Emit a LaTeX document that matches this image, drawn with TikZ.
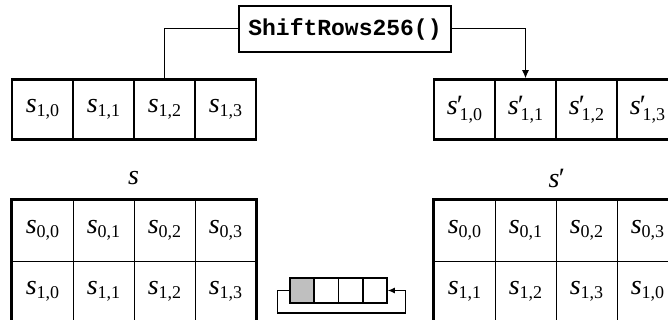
\documentclass[tikz,border=0pt]{standalone}
\usepackage{fontspec}
\setmainfont{Liberation Serif}
\setmonofont{Liberation Mono}
\usetikzlibrary{arrows.meta,calc}
\newcommand{\subsz}{\fontsize{18}{18}\selectfont}
\newcommand{\sv}[1]{\textit{s}\raisebox{-0.3ex}{\subsz #1}}
\newcommand{\svp}[1]{\textit{s\kern-2.5pt′}\kern-2pt\raisebox{-0.45ex}{\subsz #1}}
\begin{document}
\begin{tikzpicture}[x=1pt,y=-1pt,
  cellbase/.style={draw,inner sep=0pt,minimum width=61pt,minimum height=61pt,font=\fontsize{28}{28}\selectfont},
  toprow/.style={cellbase,minimum height=60pt,line width=2.6pt},
  gridcell/.style={cellbase,line width=0.9pt},
  outer/.style={line width=2.4pt},
  func/.style={draw,line width=1.8pt,inner sep=0pt,minimum width=212pt,minimum height=46pt,font=\ttfamily\bfseries\fontsize{23}{23}\selectfont},
  conn/.style={line width=1pt},
  reg/.style={draw,line width=1.5pt,inner sep=0pt,minimum width=24.25pt,minimum height=25pt},
  lbl/.style={font=\fontsize{28}{28}\selectfont\itshape}]
\useasboundingbox (0,0) rectangle (668,320);
% function box
\node[func] (f) at (345,29) {ShiftRows256()};
% top rows
\node[toprow] (a0) at (42.5,109.5) {\sv{1,0}};
\node[toprow] (a1) at (103.5,109.5) {\sv{1,1}};
\node[toprow] (a2) at (164.5,109.5) {\sv{1,2}};
\node[toprow] (a3) at (225.5,109.5) {\sv{1,3}};
\node[toprow] (b0) at (464.5,109.5) {\svp{1,0}};
\node[toprow] (b1) at (525.5,109.5) {\svp{1,1}};
\node[toprow] (b2) at (586.5,109.5) {\svp{1,2}};
\node[toprow] (b3) at (647.5,109.5) {\svp{1,3}};
% connectors
\draw[conn] (f.west) -| (a2.north);
\draw[conn,-{Latex[length=8pt,width=7pt]}] (f.east) -| (b1.north);
% labels
\node[lbl] (ls) at (133.5,178) {s};
\node[lbl] (lsp) at (556,178) {s\kern-2.5pt′};
% left grid
\node[gridcell] (p00) at (42.5,230.5) {\sv{0,0}};
\node[gridcell] (p01) at (103.5,230.5) {\sv{0,1}};
\node[gridcell] (p02) at (164.5,230.5) {\sv{0,2}};
\node[gridcell] (p03) at (225.5,230.5) {\sv{0,3}};
\node[gridcell] (p10) at (42.5,291.5) {\sv{1,0}};
\node[gridcell] (p11) at (103.5,291.5) {\sv{1,1}};
\node[gridcell] (p12) at (164.5,291.5) {\sv{1,2}};
\node[gridcell] (p13) at (225.5,291.5) {\sv{1,3}};
\draw[outer] (p00.north west) rectangle (p13.south east);
% right grid
\node[gridcell] (q00) at (464.5,230.5) {\sv{0,0}};
\node[gridcell] (q01) at (525.5,230.5) {\sv{0,1}};
\node[gridcell] (q02) at (586.5,230.5) {\sv{0,2}};
\node[gridcell] (q03) at (647.5,230.5) {\sv{0,3}};
\node[gridcell] (q10) at (464.5,291.5) {\sv{1,1}};
\node[gridcell] (q11) at (525.5,291.5) {\sv{1,2}};
\node[gridcell] (q12) at (586.5,291.5) {\sv{1,3}};
\node[gridcell] (q13) at (647.5,291.5) {\sv{1,0}};
\draw[outer] (q00.north west) rectangle (q13.south east);
% shift register
\node[reg,fill=black!25] (r0) at (302.1,290.5) {};
\node[reg] (r1) at (326.4,290.5) {};
\node[reg] (r2) at (350.6,290.5) {};
\node[reg] (r3) at (374.9,290.5) {};
\coordinate (rl) at ($(r0.west)+(-12,0)$);
\coordinate (rr) at ($(r3.east)+(18,0)$);
\draw[conn,line width=1.2pt,-{Latex[length=7pt,width=6pt]}] (r0.west) -- (rl) -- ++(0,22.5) -| (rr) -- (r3.east);
\end{tikzpicture}
\end{document}
